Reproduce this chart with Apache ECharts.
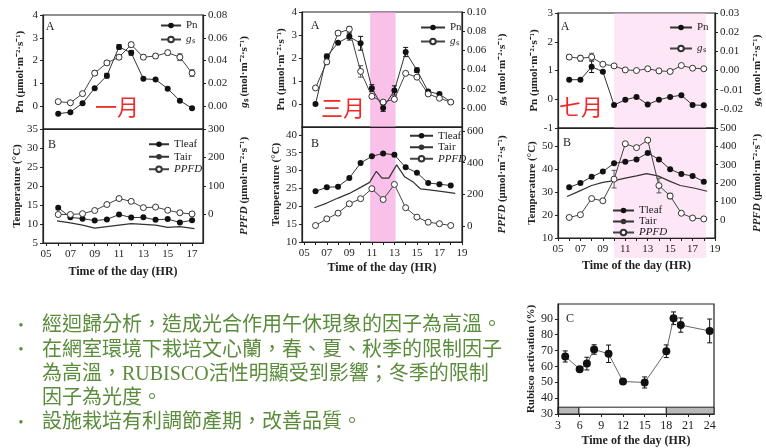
<!DOCTYPE html>
<html>
<head>
<meta charset="utf-8">
<script src="https://cdn.jsdelivr.net/npm/echarts@6/dist/echarts.min.js"></script>
<style>
  html, body { margin: 0; background: #fff; }
  #chart { width: 766px; height: 448px; }
</style>
</head>
<body>
<div id="chart"></div>
<script>
// ---- data ----
const janHours = [6, 7, 8, 9, 10, 11, 12, 13, 14, 15, 16, 17];
const hours = [6, 7, 8, 9, 10, 11, 12, 13, 14, 15, 16, 17, 18];

// January
const janPn = [-0.33, -0.26, 0.13, 0.79, 1.34, 2.6, 2.34, 1.2, 1.17, 0.77, 0.24, -0.09];
const janPnErr = [0, 0, 0, 0, 0.1, 0.1, 0.1, 0, 0, 0, 0, 0];
const janGs = [0.004, 0.003, 0.011, 0.029, 0.038, 0.043, 0.054, 0.043, 0.044, 0.047, 0.043, 0.029];
const janGsErr = [0, 0, 0, 0.002, 0.002, 0.002, 0.002, 0.002, 0.002, 0.002, 0.003, 0.003];
const janTleaf = [14.3, 11.75, 11.4, 10.9, 11.2, 12.5, 11.7, 11.75, 11.1, 11.3, 10.4, 11.0];
const janTairHours = [5.9, 7, 8, 9, 10, 11, 12, 13, 14, 15, 16, 17.2];
const janTair = [10.8, 10.3, 9.7, 8.9, 9.3, 9.7, 10.1, 9.9, 9.7, 9.1, 9.3, 8.8];
const janPpfd = [0, 0, 3, 14, 35, 56, 46, 24, 26, 15, 6, 2];

// March
const marPn = [0, 2.07, 2.66, 2.93, 2.64, 0.69, -0.17, 0.59, 2.26, 1.47, 0.54, 0.43, 0.09];
const marPnErr = [0, 0.1, 0, 0.15, 0.3, 0.15, 0.15, 0.2, 0.2, 0.1, 0, 0, 0];
const marGs = [0.0207, 0.048, 0.078, 0.082, 0.038, 0.012, 0.006, 0.009, 0.036, 0.032, 0.0145, 0.010, 0.006];
const marGsErr = [0, 0.002, 0.002, 0.003, 0.006, 0.002, 0, 0.002, 0, 0, 0, 0, 0];
const marTleaf = [24.2, 25.3, 25.5, 27.9, 32.1, 34.0, 34.8, 34.4, 30.9, 29.4, 26.5, 26.2, 25.8];
const marTairHours = [5.9, 7, 8, 9, 10, 10.8, 11.4, 11.9, 12.5, 13.2, 13.9, 14.7, 15.3, 16.1, 17.3, 18.4];
const marTair = [19.6, 20.9, 22.3, 23.6, 25.3, 26.7, 29.8, 27.9, 27.9, 31.6, 28.3, 26.7, 24.9, 24.6, 24.1, 23.6];
const marPpfd = [4, 46, 82, 141, 173, 236, 168, 263, 116, 57, 25, 15, 4];
const marBand = [10.85, 13.1];

// July
const julPn = [0.68, 0.68, 1.13, 0.96, -0.2, -0.02, 0.08, -0.18, -0.02, 0.08, 0.14, -0.2, -0.21];
const julPnErr = [0, 0, 0.2, 0, 0, 0, 0, 0, 0, 0, 0, 0, 0];
const julGs = [0.0070, 0.0064, 0.0070, 0.0033, 0.0024, 0.0003, 0, 0.0009, -0.0002, -0.0005, 0.0026, 0.0012, 0.0009];
const julGsErr = [0.001, 0.0015, 0.002, 0, 0, 0, 0, 0, 0, 0, 0, 0, 0];
const julTleaf = [32.1, 34, 36.7, 39, 42.6, 43.3, 44.3, 47.1, 44.3, 40, 37.9, 37.1, 34.6];
const julTairHours = [5.8, 6.7, 8, 9, 10, 11, 12, 12.9, 13.9, 15, 15.9, 17.2, 18.3];
const julTair = [28.1, 30.0, 32.9, 34.3, 35.0, 36.1, 37.1, 38.1, 37.1, 34.7, 32.9, 31.7, 30.4];
const julPpfd = [12, 27, 115, 103, 221, 414, 393, 434, 186, 129, 35, 9, 4];
const julPpfdErr = [0, 0, 0, 0, 48, 0, 0, 0, 40, 15, 0, 0, 0];
const julBand = [10, 18.2];

// Rubisco activation
const rubHours = [4, 6, 7, 8, 10, 12, 15, 18, 19, 20, 24];
const rubAct = [66.3, 58.3, 61.8, 70.7, 68, 50.5, 49.9, 69.6, 90.4, 86.1, 82.4];
const rubErr = [3.5, 1, 4, 3, 5.5, 1.5, 3.5, 4, 4, 4.5, 7.5];
const nightBounds = [3, 5.9, 18, 24.6];   // dark / light / dark periods
const nightFlags = [1, 0, 1];

// tick labels
const janXLabels = [5, 7, 9, 11, 13, 15, 17];
const xLabels = [5, 7, 9, 11, 13, 15, 17, 19];
const rubXLabels = [3, 6, 9, 12, 15, 18, 21, 24];

const bullets = [
  '經迴歸分析，造成光合作用午休現象的因子為高溫。',
  '在網室環境下栽培文心蘭，春、夏、秋季的限制因子',
  '為高溫，RUBISCO活性明顯受到影響；冬季的限制',
  '因子為光度。',
  '設施栽培有利調節產期，改善品質。'
];
const bulletMarks = [true, true, false, false, true];

// ---- helpers ----
const SERIF = '"Liberation Serif", "Times New Roman", serif';
const INK = '#222';
const GREEN = '#5b8c3b';
const range = (a, b, s) => { const r = []; for (let v = a; v <= b + 1e-9; v += s) r.push(+v.toFixed(4)); return r; };
const zip = (xs, ys) => xs.map((x, i) => [x, ys[i]]);
const pad = v => (v < 10 ? '0' : '') + v;

const nameStyle = {
  fontFamily: SERIF, fontWeight: 'bold', fontSize: 11, color: INK,
  rich: { i: { fontStyle: 'italic', fontWeight: 'bold', fontFamily: SERIF, fontSize: 11 } }
};

function yAx(grid, pos, min, max, labels, fmt, name, gap) {
  return {
    type: 'value', gridIndex: grid, position: pos, min: min, max: max, z: 5,
    splitLine: { show: false },
    axisLine: { show: true, lineStyle: { color: INK, width: 1.2 } },
    axisTick: { show: true, length: 3, customValues: labels, lineStyle: { color: INK } },
    axisLabel: { customValues: labels, formatter: fmt, fontFamily: SERIF, fontSize: 11, color: INK, margin: 5 },
    name: name, nameLocation: 'middle', nameRotate: 90, nameGap: gap, nameTextStyle: nameStyle
  };
}

function xAx(grid, min, max, labels, ticks, showLabels, fmt, gap) {
  return {
    type: 'value', gridIndex: grid, min: min, max: max, z: 5,
    splitLine: { show: false },
    axisLine: { show: true, onZero: false, lineStyle: { color: INK, width: 1.2 } },
    axisTick: { show: showLabels, length: 3, customValues: ticks, lineStyle: { color: INK } },
    axisLabel: { show: showLabels, customValues: labels, formatter: fmt, fontFamily: SERIF, fontSize: 11, color: INK, margin: 6 },
    name: showLabels ? 'Time of the day (HR)' : '', nameLocation: 'middle', nameGap: gap,
    nameTextStyle: { fontFamily: SERIF, fontWeight: 'bold', fontSize: 12, color: INK }
  };
}

function filled(name, xi, yi, xs, ys, size) {
  return {
    name: name, type: 'line', xAxisIndex: xi, yAxisIndex: yi, data: zip(xs, ys),
    symbol: 'circle', symbolSize: size || 6, showAllSymbol: true, z: 4,
    itemStyle: { color: '#111' }, lineStyle: { color: '#333', width: 1 }
  };
}
function open(name, xi, yi, xs, ys) {
  return {
    name: name, type: 'line', xAxisIndex: xi, yAxisIndex: yi, data: zip(xs, ys),
    symbol: 'circle', symbolSize: 6, showAllSymbol: true, z: 4,
    itemStyle: { color: '#fff', borderColor: '#333', borderWidth: 1 }, lineStyle: { color: '#444', width: 1 }
  };
}
function plain(name, xi, yi, xs, ys) {
  return {
    name: name, type: 'line', xAxisIndex: xi, yAxisIndex: yi, data: zip(xs, ys),
    symbol: 'none', z: 3, lineStyle: { color: '#333', width: 1.2 }, itemStyle: { color: '#333' }
  };
}
function errBars(xi, yi, xs, ys, errs, color) {
  const data = xs.map((x, i) => [x, ys[i], errs[i]]).filter(d => d[2] > 0);
  return {
    type: 'custom', xAxisIndex: xi, yAxisIndex: yi, data: data, silent: true, z: 3,
    encode: { x: 0, y: 1 },
    renderItem: function (params, api) {
      const x = api.value(0), y = api.value(1), e = api.value(2);
      const hi = api.coord([x, y + e]), lo = api.coord([x, y - e]);
      const w = 2.5, st = { stroke: color, lineWidth: 1 };
      return { type: 'group', children: [
        { type: 'line', shape: { x1: hi[0], y1: hi[1], x2: lo[0], y2: lo[1] }, style: st },
        { type: 'line', shape: { x1: hi[0] - w, y1: hi[1], x2: hi[0] + w, y2: hi[1] }, style: st },
        { type: 'line', shape: { x1: lo[0] - w, y1: lo[1], x2: lo[0] + w, y2: lo[1] }, style: st }
      ] };
    }
  };
}
function band(xi, yi, span, color, extra) {
  return {
    type: 'custom', xAxisIndex: xi, yAxisIndex: yi, data: [span], silent: true, clip: false, z: 1,
    encode: { x: [0, 1] },
    renderItem: function (params, api) {
      const cs = params.coordSys;
      const a = api.coord([api.value(0), 0])[0], b = api.coord([api.value(1), 0])[0];
      return { type: 'rect', shape: { x: a, y: cs.y, width: b - a, height: cs.height + extra }, style: { fill: color } };
    }
  };
}
function legend(names, left, top, gap, iw, lh) {
  return {
    data: names, left: left, top: top, padding: 0, orient: 'vertical', itemGap: gap, itemWidth: iw, itemHeight: 7,
    selectedMode: false,
    formatter: n => n === 'gs' ? '{i|g}ₛ' : (n === 'PPFD' ? '{i|PPFD}' : n),
    textStyle: { fontFamily: SERIF, fontSize: 11, color: INK, lineHeight: lh,
      rich: { i: { fontStyle: 'italic', fontFamily: SERIF, fontSize: 11, lineHeight: lh } } }
  };
}

const f0 = v => String(v);
const f2 = v => v.toFixed(2);
const PN = 'Pn (μmol·m⁻²·s⁻¹)';
const GS = '{i|g}ₛ (mol·m⁻²·s⁻¹)';
const TEMP = 'Temperature (°C)';
const PPFD = '{i|PPFD} (μmol·m⁻²·s⁻¹)';

const grid = [
  { left: 43, top: 15, width: 160, height: 114 },
  { left: 43, top: 129, width: 160, height: 114 },
  { left: 302, top: 12, width: 160, height: 115 },
  { left: 302, top: 127, width: 160, height: 115 },
  { left: 558, top: 13, width: 157, height: 115 },
  { left: 558, top: 128, width: 157, height: 110 },
  { left: 558, top: 304, width: 156, height: 113 }
].map(g => Object.assign({ show: true, borderColor: INK, borderWidth: 1.2 }, g));

const xAxis = [
  xAx(0, 4.75, 17.9, [], [], false),
  xAx(1, 4.75, 17.9, janXLabels, range(5, 17, 1), true, pad, 23),
  xAx(2, 4.8, 19, [], [], false),
  xAx(3, 4.8, 19, xLabels, range(5, 19, 1), true, pad, 20),
  xAx(4, 5, 19, [], [], false),
  xAx(5, 5, 19, xLabels, range(5, 19, 1), true, pad, 22),
  xAx(6, 3, 24.6, rubXLabels, rubXLabels, true, f0, 21)
];

const yAxis = [
  yAx(0, 'left', -1, 4, range(0, 4, 1), f0, PN, 17),
  yAx(0, 'right', -0.02, 0.08, range(0, 0.08, 0.02), f2, GS, 36),
  yAx(1, 'left', 5, 35, range(5, 35, 5), f0, TEMP, 17),
  yAx(1, 'right', -100, 300, range(0, 300, 100), f0, PPFD, 36),
  yAx(2, 'left', -1, 4, range(0, 4, 1), f0, PN, 15),
  yAx(2, 'right', -0.02, 0.10, range(0, 0.10, 0.02), f2, GS, 35),
  yAx(3, 'left', 10, 42.2, range(10, 40, 5), f0, TEMP, 15),
  yAx(3, 'right', -100, 625, range(0, 600, 200), f0, PPFD, 35),
  yAx(4, 'left', -1, 3, range(-1, 3, 1), f0, PN, 15),
  yAx(4, 'right', -0.03, 0.03, range(-0.02, 0.03, 0.01), f2, GS, 37),
  yAx(5, 'left', 10, 58, range(10, 50, 10), f0, TEMP, 15),
  yAx(5, 'right', -100, 500, range(0, 500, 100), f0, PPFD, 37),
  yAx(6, 'left', 30, 99.4, range(30, 90, 10), f0, 'Rubisco activation (%)', 19)
];
yAxis[12].axisLabel.fontSize = 12;
xAxis[6].axisLabel.fontSize = 12;

const nightStrip = {
  type: 'custom', xAxisIndex: 6, yAxisIndex: 12, silent: true, z: 3,
  data: nightFlags.map((f, i) => [nightBounds[i], nightBounds[i + 1], f]),
  encode: { x: [0, 1] },
  renderItem: function (params, api) {
    const p0 = api.coord([api.value(0), 34.3]), p1 = api.coord([api.value(1), 30]);
    return { type: 'rect', shape: { x: p0[0], y: p0[1], width: p1[0] - p0[0], height: p1[1] - p0[1] },
      style: { fill: api.value(2) ? '#b8b8b8' : '#fff', stroke: INK, lineWidth: 1 } };
  }
};

const series = [
  // January
  errBars(0, 0, janHours, janPn, janPnErr, '#111'),
  errBars(0, 1, janHours, janGs, janGsErr, '#555'),
  filled('Pn', 0, 0, janHours, janPn),
  open('gs', 0, 1, janHours, janGs),
  filled('Tleaf', 1, 2, janHours, janTleaf),
  plain('Tair', 1, 2, janTairHours, janTair),
  open('PPFD', 1, 3, janHours, janPpfd),
  // March
  band(2, 4, marBand, 'rgba(245,150,220,0.6)', 0),
  band(3, 6, marBand, 'rgba(245,150,220,0.6)', 0),
  errBars(2, 4, hours, marPn, marPnErr, '#111'),
  errBars(2, 5, hours, marGs, marGsErr, '#555'),
  filled('Pn', 2, 4, hours, marPn),
  open('gs', 2, 5, hours, marGs),
  filled('Tleaf', 3, 6, hours, marTleaf),
  plain('Tair', 3, 6, marTairHours, marTair),
  open('PPFD', 3, 7, hours, marPpfd),
  // July
  band(4, 8, julBand, 'rgba(250,200,235,0.45)', 0),
  band(5, 10, julBand, 'rgba(250,200,235,0.45)', 20),
  errBars(4, 8, hours, julPn, julPnErr, '#111'),
  errBars(4, 9, hours, julGs, julGsErr, '#555'),
  errBars(5, 11, hours, julPpfd, julPpfdErr, '#555'),
  filled('Pn', 4, 8, hours, julPn),
  open('gs', 4, 9, hours, julGs),
  filled('Tleaf', 5, 10, hours, julTleaf),
  plain('Tair', 5, 10, julTairHours, julTair),
  open('PPFD', 5, 11, hours, julPpfd),
  // Rubisco
  nightStrip,
  errBars(6, 12, rubHours, rubAct, rubErr, '#111'),
  Object.assign(filled('Rubisco', 6, 12, rubHours, rubAct, 8), { lineStyle: { color: '#666', width: 1 } })
];

const legends = [
  legend(['Pn', 'gs'], 160, 19, 1, 20, 13),
  legend(['Tleaf', 'Tair', 'PPFD'], 148, 138, 0, 20, 12.5),
  legend(['Pn', 'gs'], 420, 21, 1, 24, 13),
  legend(['Tleaf', 'Tair', 'PPFD'], 409, 130, 0, 23, 11.5),
  legend(['Pn', 'gs'], 669, 21, 8, 22, 13),
  legend(['Tleaf', 'Tair', 'PPFD'], 612, 205, 0, 21, 8.5)
];

const graphic = [];
[['A', 50, 27], ['B', 52, 145], ['A', 315, 26], ['B', 315, 144], ['A', 565, 27], ['B', 567, 143], ['C', 570, 319]]
  .forEach(t => graphic.push({ type: 'text', x: t[1], y: t[2], silent: true,
    style: { text: t[0], fontFamily: SERIF, fontSize: 12, fill: INK, align: 'center', verticalAlign: 'middle' } }));
[['一月', 117, 107], ['三月', 343, 108], ['七月', 581, 107]]
  .forEach(t => graphic.push({ type: 'text', x: t[1], y: t[2], silent: true, z: 10,
    style: { text: t[0], fontFamily: '"Noto Sans CJK TC"', fontSize: 22, fill: '#f02828', align: 'center', verticalAlign: 'middle' } }));
bullets.forEach((line, i) => {
  const y = 326 + i * 24.3;
  if (bulletMarks[i]) {
    graphic.push({ type: 'text', x: 21, y: y, silent: true,
      style: { text: '•', fontFamily: SERIF, fontSize: 14, fill: GREEN, align: 'center', verticalAlign: 'middle' } });
  }
  graphic.push({ type: 'text', x: 42, y: y, silent: true,
    style: { text: line, fontFamily: '"Liberation Serif", "Noto Sans CJK TC"', fontSize: 20, fill: GREEN, align: 'left', verticalAlign: 'middle' } });
});

const chart = echarts.init(document.getElementById('chart'));
chart.setOption({
  animation: false,
  backgroundColor: '#fff',
  grid: grid,
  xAxis: xAxis,
  yAxis: yAxis,
  legend: legends,
  graphic: graphic,
  series: series
});
</script>
</body>
</html>
